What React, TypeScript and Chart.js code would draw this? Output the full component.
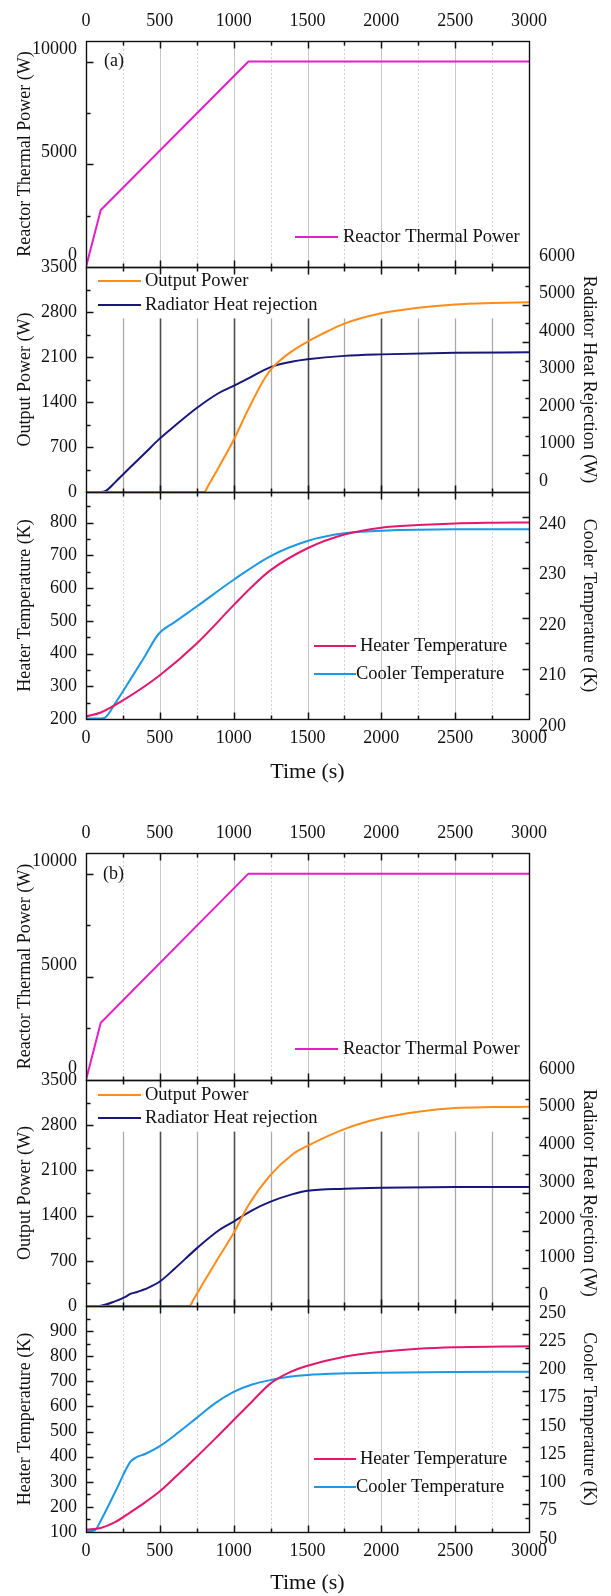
import React, { useEffect, useRef } from "react";
import { Chart, registerables } from "chart.js";

Chart.register(...registerables);

const FONT = "'Liberation Serif', 'Times New Roman', Times, serif";

// ---------------- time axis ----------------
const timeMin = 0;
const timeMax = 3000;
const timeTicks = [0, 500, 1000, 1500, 2000, 2500, 3000];
const timeMinorTicks = [250, 750, 1250, 1750, 2250, 2750];

// ---------------- (a) data ----------------
const reactorTimeA = [0, 100, 1100, 3000];
const reactorPowerA = [0, 2770, 10000, 10000];

const outputTimeA = [0, 800, 830, 900, 1000, 1100, 1200, 1250, 1300, 1400, 1500, 1600, 1750, 2000, 2250, 2500, 2750, 3000];
const outputPowerA = [0, 0, 110, 390, 810, 1290, 1730, 1900, 2020, 2200, 2338, 2460, 2620, 2780, 2866, 2918, 2940, 2952];

const radiatorTimeA = [0, 100, 130, 200, 300, 400, 490, 600, 750, 900, 1000, 1100, 1250, 1400, 1500, 1750, 2000, 2500, 3000];
const radiatorHeatA = [0, 0, 20, 270, 660, 1040, 1390, 1760, 2240, 2640, 2830, 3030, 3330, 3480, 3540, 3630, 3670, 3715, 3725];

const heaterTimeA = [0, 100, 250, 500, 750, 1000, 1125, 1250, 1500, 1750, 2000, 2250, 2500, 2750, 3000];
const heaterTempA = [208, 220, 257, 334, 431, 548, 605, 655, 722, 764, 785, 793, 798, 800, 801];

const coolerTimeA = [0, 100, 130, 200, 300, 400, 490, 600, 750, 1000, 1250, 1500, 1750, 2000, 2500, 3000];
const coolerTempA = [200.1, 200.1, 200.3, 203.2, 207.8, 212.5, 216.8, 219.2, 222.3, 227.6, 232.3, 235.3, 236.8, 237.3, 237.6, 237.6];

// ---------------- (b) data ----------------
const reactorTimeB = [0, 100, 1100, 3000];
const reactorPowerB = [0, 2770, 10000, 10000];

const outputTimeB = [0, 700, 730, 800, 900, 1000, 1100, 1250, 1400, 1500, 1750, 2000, 2250, 2500, 2750, 3000];
const outputPowerB = [0, 0, 110, 380, 760, 1130, 1560, 2030, 2350, 2480, 2740, 2910, 3010, 3065, 3080, 3085];

const radiatorTimeB = [0, 100, 200, 270, 300, 340, 420, 500, 600, 750, 900, 1000, 1125, 1250, 1400, 1500, 1750, 2000, 2500, 3000];
const radiatorHeatB = [0, 10, 130, 250, 320, 365, 480, 650, 990, 1530, 2010, 2240, 2540, 2770, 2970, 3060, 3115, 3140, 3158, 3160];

const heaterTimeB = [0, 100, 200, 300, 400, 500, 625, 750, 875, 1000, 1125, 1250, 1375, 1500, 1750, 2000, 2250, 2500, 3000];
const heaterTempB = [110, 116, 140, 178, 218, 262, 330, 400, 472, 546, 620, 692, 735, 762, 798, 818, 830, 836, 840];

const coolerTimeB = [0, 60, 100, 200, 300, 340, 400, 500, 625, 750, 875, 1000, 1125, 1250, 1375, 1500, 1750, 2000, 2500, 3000];
const coolerTempB = [50.5, 51.5, 60, 86, 112, 116, 119, 126, 138, 151, 164, 174, 180.5, 184.5, 187.3, 189, 190.4, 191, 191.6, 191.9];

// ---------------- axis ticks ----------------
const reactorTicks = [0, 5000, 10000];
const reactorMinor = [2500, 7500];
const outputTicks = [0, 700, 1400, 2100, 2800, 3500];
const outputMinor = [350, 1050, 1750, 2450, 3150];
const radiatorTicks = [0, 1000, 2000, 3000, 4000, 5000, 6000];
const radiatorMinor = [500, 1500, 2500, 3500, 4500, 5500];
const heaterTicksA = [200, 300, 400, 500, 600, 700, 800];
const heaterMinorA = [250, 350, 450, 550, 650, 750, 850];
const coolerTicksA = [200, 210, 220, 230, 240];
const coolerMinorA = [205, 215, 225, 235];
const heaterTicksB = [100, 200, 300, 400, 500, 600, 700, 800, 900];
const heaterMinorB = [150, 250, 350, 450, 550, 650, 750, 850, 950];
const coolerTicksB = [50, 75, 100, 125, 150, 175, 200, 225, 250];
const coolerMinorB = [62.5, 87.5, 112.5, 137.5, 162.5, 187.5, 212.5, 237.5];

const C_REACTOR = "#e61ec8";
const C_OUTPUT = "#ff8c1a";
const C_RADIATOR = "#17177a";
const C_HEATER = "#e2186e";
const C_COOLER = "#1c98e6";

type AxisSpec = { min: number; max: number; major: number[]; minor: number[]; title: string; labelOffset: number };
type SeriesSpec = { label: string; color: string; t: number[]; v: number[]; axis: string; smooth: boolean };
type PanelSpec = {
  top: number;
  height: number;
  area: [number, number];
  xMode: "top" | "none" | "bottom";
  left: AxisSpec;
  right?: AxisSpec;
  series: SeriesSpec[];
  legend: { x1: number; x2: number; tx: number[]; ys: number[] };
  tag?: { text: string; x: number; y: number };
  grid: "light" | "dark";
  gridFrom?: number;
};

const W = 611;
const AREA_LEFT = 86;
const AREA_RIGHT = 529;

const reactorAxis: AxisSpec = { min: 0, max: 11000, major: reactorTicks, minor: reactorMinor, title: "Reactor Thermal Power (W)", labelOffset: -12 };
const outputAxis: AxisSpec = { min: 0, max: 3500, major: outputTicks, minor: outputMinor, title: "Output Power (W)", labelOffset: 0 };
const radiatorAxis: AxisSpec = { min: 0, max: 6000, major: radiatorTicks, minor: radiatorMinor, title: "Radiator Heat Rejection (W)", labelOffset: -11 };

const panels: PanelSpec[] = [
  {
    top: 0, height: 295, area: [41, 267], xMode: "top",
    left: reactorAxis,
    series: [{ label: "Reactor Thermal Power", color: C_REACTOR, t: reactorTimeA, v: reactorPowerA, axis: "y", smooth: false }],
    legend: { x1: 295, x2: 338, tx: [343], ys: [237] },
    tag: { text: "(a)", x: 104, y: 61 },
    grid: "light",
  },
  {
    top: 240, height: 280, area: [267, 492], xMode: "none",
    left: outputAxis, right: radiatorAxis,
    series: [
      { label: "Output Power", color: C_OUTPUT, t: outputTimeA, v: outputPowerA, axis: "y", smooth: true },
      { label: "Radiator Heat rejection", color: C_RADIATOR, t: radiatorTimeA, v: radiatorHeatA, axis: "y2", smooth: true },
    ],
    legend: { x1: 98, x2: 141, tx: [145, 145], ys: [281, 305] },
    grid: "dark", gridFrom: 2700,
  },
  {
    top: 465, height: 320, area: [492, 719], xMode: "bottom",
    left: { min: 200, max: 894, major: heaterTicksA, minor: heaterMinorA, title: "Heater Temperature (K)", labelOffset: 0 },
    right: { min: 200, max: 245, major: coolerTicksA, minor: coolerMinorA, title: "Cooler Temperature (K)", labelOffset: 7 },
    series: [
      { label: "Heater Temperature", color: C_HEATER, t: heaterTimeA, v: heaterTempA, axis: "y", smooth: true },
      { label: "Cooler Temperature", color: C_COOLER, t: coolerTimeA, v: coolerTempA, axis: "y2", smooth: true },
    ],
    legend: { x1: 314, x2: 356, tx: [360, 356], ys: [646, 674] },
    grid: "light",
  },
  {
    top: 800, height: 310, area: [853, 1080], xMode: "top",
    left: reactorAxis,
    series: [{ label: "Reactor Thermal Power", color: C_REACTOR, t: reactorTimeB, v: reactorPowerB, axis: "y", smooth: false }],
    legend: { x1: 295, x2: 338, tx: [343], ys: [1049] },
    tag: { text: "(b)", x: 103, y: 874 },
    grid: "light",
  },
  {
    top: 1050, height: 285, area: [1080, 1306], xMode: "none",
    left: outputAxis, right: radiatorAxis,
    series: [
      { label: "Output Power", color: C_OUTPUT, t: outputTimeB, v: outputPowerB, axis: "y", smooth: true },
      { label: "Radiator Heat rejection", color: C_RADIATOR, t: radiatorTimeB, v: radiatorHeatB, axis: "y2", smooth: true },
    ],
    legend: { x1: 98, x2: 141, tx: [145, 145], ys: [1095, 1118] },
    grid: "dark", gridFrom: 2700,
  },
  {
    top: 1278, height: 318, area: [1306, 1532], xMode: "bottom",
    left: { min: 100, max: 1000, major: heaterTicksB, minor: heaterMinorB, title: "Heater Temperature (K)", labelOffset: 0 },
    right: { min: 50, max: 250, major: coolerTicksB, minor: coolerMinorB, title: "Cooler Temperature (K)", labelOffset: 7 },
    series: [
      { label: "Heater Temperature", color: C_HEATER, t: heaterTimeB, v: heaterTempB, axis: "y", smooth: true },
      { label: "Cooler Temperature", color: C_COOLER, t: coolerTimeB, v: coolerTempB, axis: "y2", smooth: true },
    ],
    legend: { x1: 314, x2: 356, tx: [360, 356], ys: [1459, 1487] },
    grid: "light",
  },
];

const crisp = (v: number) => Math.round(v) + 0.5;

function makeDecor(p: PanelSpec) {
  const allT = [...timeTicks, ...timeMinorTicks].filter((t) => t > timeMin && t < timeMax);
  return {
    id: "decor",
    beforeDatasetsDraw(chart: any) {
      const { ctx, chartArea: a, scales } = chart;
      const xs = scales.x;
      ctx.save();
      allT.forEach((t) => {
        const px = crisp(xs.getPixelForValue(t));
        const major = timeTicks.includes(t);
        let y0 = a.top;
        if (p.grid === "dark") {
          y0 = scales.y.getPixelForValue(p.gridFrom ?? p.left.max);
          const strong = major && t <= 2000;
          ctx.strokeStyle = strong ? "#4e4e4e" : "#ababab";
          ctx.lineWidth = strong ? 1.6 : 1.3;
          ctx.setLineDash([]);
        } else {
          ctx.strokeStyle = major ? "#c8c8c8" : "#d2d2d2";
          ctx.lineWidth = 1;
          ctx.setLineDash(major ? [] : [2, 2]);
        }
        ctx.beginPath();
        ctx.moveTo(px, y0);
        ctx.lineTo(px, a.bottom);
        ctx.stroke();
      });
      ctx.restore();
    },
    afterDraw(chart: any) {
      const { ctx, chartArea: a, scales } = chart;
      const xs = scales.x;
      const L = crisp(a.left);
      const R = crisp(a.right);
      const T = crisp(a.top);
      const B = crisp(a.bottom);
      ctx.save();
      ctx.setLineDash([]);
      ctx.strokeStyle = "#111";
      ctx.lineWidth = 1.4;
      ctx.strokeRect(L, T, R - L, B - T);
      const MAJ = 7;
      const MIN = 4;
      ctx.lineWidth = 1.5;
      ctx.beginPath();
      allT.forEach((t) => {
        const px = crisp(xs.getPixelForValue(t));
        const len = timeTicks.includes(t) ? MAJ : MIN;
        ctx.moveTo(px, T);
        ctx.lineTo(px, T + len);
        ctx.moveTo(px, B);
        ctx.lineTo(px, B - len);
      });
      const yTicks = (ax: AxisSpec, scale: any, side: "l" | "r") => {
        const put = (v: number, len: number) => {
          if (v <= ax.min || v >= ax.max) return;
          const py = crisp(scale.getPixelForValue(v));
          if (side === "l") {
            ctx.moveTo(L, py);
            ctx.lineTo(L + len, py);
          } else {
            ctx.moveTo(R, py);
            ctx.lineTo(R - len, py);
          }
        };
        ax.major.forEach((v) => put(v, MAJ));
        ax.minor.forEach((v) => put(v, MIN));
      };
      yTicks(p.left, scales.y, "l");
      if (p.right) yTicks(p.right, scales.y2, "r");
      ctx.stroke();

      ctx.font = `18.5px ${FONT}`;
      ctx.textBaseline = "middle";
      ctx.textAlign = "left";
      ctx.fillStyle = "#111";
      chart.data.datasets.forEach((ds: any, i: number) => {
        const y = p.legend.ys[i] - p.top;
        ctx.strokeStyle = ds.borderColor;
        ctx.lineWidth = 2.2;
        ctx.beginPath();
        ctx.moveTo(p.legend.x1, y);
        ctx.lineTo(p.legend.x2, y);
        ctx.stroke();
        ctx.fillText(ds.label, p.legend.tx[i], y);
      });
      if (p.tag) {
        ctx.font = `18px ${FONT}`;
        ctx.fillText(p.tag.text, p.tag.x, p.tag.y - p.top);
      }
      ctx.restore();
    },
  };
}

function yScale(ax: AxisSpec, position: "left" | "right", width: number) {
  return {
    type: "linear",
    position,
    min: ax.min,
    max: ax.max,
    afterFit: (s: any) => {
      s.width = width;
    },
    afterBuildTicks: (s: any) => {
      s.ticks = ax.major.map((v) => ({ value: v }));
    },
    grid: { display: false, drawTicks: false },
    border: { display: false },
    ticks: {
      autoSkip: false,
      font: { family: FONT, size: 18 },
      color: "#111",
      padding: position === "left" ? 9 : 10,
      labelOffset: ax.labelOffset,
      callback: (v: any) => String(v),
    },
    title: {
      display: true,
      text: ax.title,
      font: { family: FONT, size: 18 },
      color: "#111",
      padding: { top: position === "left" ? 14 : 11, bottom: 0 },
    },
  };
}

function buildConfig(p: PanelSpec): any {
  const datasets = p.series.map((s) => ({
    label: s.label,
    data: s.t.map((t, i) => ({ x: t, y: s.v[i] })),
    borderColor: s.color,
    backgroundColor: s.color,
    borderWidth: 2,
    pointRadius: 0,
    fill: false,
    tension: 0,
    cubicInterpolationMode: s.smooth ? "monotone" : "default",
    yAxisID: s.axis,
  }));
  const bottom = p.top + p.height;
  const xScale: any = {
    type: "linear",
    min: timeMin,
    max: timeMax,
    display: p.xMode !== "none",
    position: p.xMode === "top" ? "top" : "bottom",
    afterBuildTicks: (s: any) => {
      s.ticks = timeTicks.map((v) => ({ value: v }));
    },
    grid: { display: false, drawTicks: false },
    border: { display: false },
    ticks: {
      autoSkip: false,
      maxRotation: 0,
      font: { family: FONT, size: 18 },
      color: "#111",
      padding: p.xMode === "top" ? 9 : 8,
      callback: (v: any) => String(v),
    },
    title: {
      display: p.xMode === "bottom",
      text: "Time (s)",
      font: { family: FONT, size: 22 },
      color: "#111",
      padding: { top: 0, bottom: 0 },
    },
  };
  if (p.xMode === "top") {
    const h = p.area[0] - p.top;
    xScale.afterFit = (s: any) => {
      s.height = h;
    };
  } else if (p.xMode === "bottom") {
    const h = bottom - p.area[1];
    xScale.afterFit = (s: any) => {
      s.height = h;
    };
  }
  const scales: any = {
    x: xScale,
    y: yScale(p.left, "left", AREA_LEFT),
  };
  if (p.right) scales.y2 = yScale(p.right, "right", W - AREA_RIGHT);
  const padding = {
    left: 0,
    right: p.right ? 0 : W - AREA_RIGHT,
    top: p.xMode === "top" ? 0 : p.area[0] - p.top,
    bottom: p.xMode === "bottom" ? 0 : bottom - p.area[1],
  };
  return {
    type: "line",
    data: { datasets },
    options: {
      responsive: false,
      maintainAspectRatio: false,
      devicePixelRatio: 1,
      animation: false,
      events: [],
      layout: { padding },
      plugins: { legend: { display: false }, tooltip: { enabled: false }, title: { display: false } },
      scales,
    },
    plugins: [makeDecor(p)],
  };
}

function Panel({ spec }: { spec: PanelSpec }) {
  const ref = useRef<HTMLCanvasElement | null>(null);
  useEffect(() => {
    if (!ref.current) return;
    const chart = new Chart(ref.current, buildConfig(spec));
    return () => chart.destroy();
  }, [spec]);
  return (
    <canvas
      ref={ref}
      width={W}
      height={spec.height}
      style={{ position: "absolute", left: 0, top: spec.top, width: W, height: spec.height }}
    />
  );
}

export default function App() {
  return (
    <div
      style={{
        position: "absolute",
        left: 0,
        top: 0,
        width: W,
        height: 1596,
        overflow: "hidden",
        background: "#fff",
      }}
    >
      {panels.map((p, i) => (
        <Panel key={i} spec={p} />
      ))}
    </div>
  );
}
